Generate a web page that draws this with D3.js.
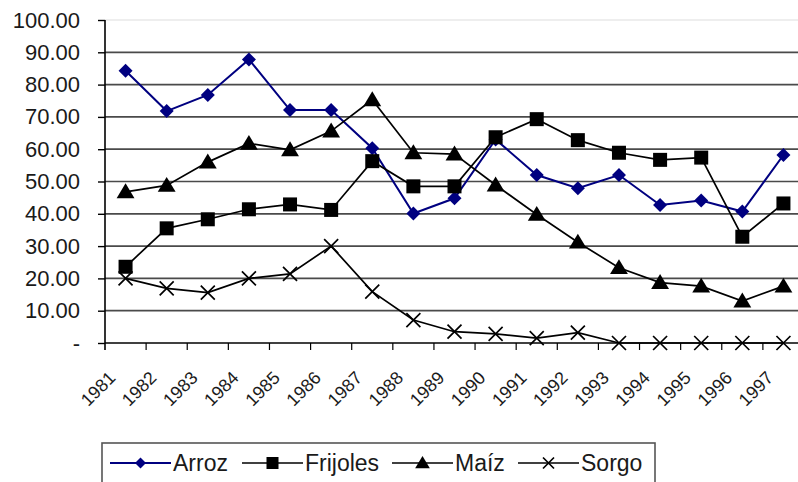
<!DOCTYPE html>
<html>
<head>
<meta charset="utf-8">
<script src="https://cdn.jsdelivr.net/npm/d3@7"></script>
<style>
  body { margin: 0; background: #fff; }
  svg { display: block; font-family: "Liberation Sans", Arial, sans-serif; }
</style>
</head>
<body>
<svg width="798" height="482"></svg>
<script>
// data
let years = ['1981', '1982', '1983', '1984', '1985', '1986', '1987', '1988', '1989',
    '1990', '1991', '1992', '1993', '1994', '1995', '1996', '1997'];
let arroz = [84.3, 71.8, 76.8, 87.8, 72.1, 72.1, 60.3, 40.1, 44.8, 63.0, 52.0, 47.9, 52.0, 42.7, 44.1, 40.7, 58.2];
let frijoles = [23.6, 35.5, 38.3, 41.4, 42.9, 41.2, 56.3, 48.5, 48.5, 63.7, 69.3, 62.8, 58.9, 56.7, 57.4, 32.9, 43.2];
let maiz = [46.8, 48.8, 56.0, 61.8, 59.8, 65.6, 75.3, 58.9, 58.5, 48.9, 39.8, 31.2, 23.3, 18.7, 17.6, 13.0, 17.6];
let sorgo = [20.0, 16.9, 15.6, 20.0, 21.4, 30.0, 15.9, 7.1, 3.5, 2.8, 1.5, 3.2, 0, 0, 0, 0, 0];
let seriesNames = ['Arroz', 'Frijoles', 'Maíz', 'Sorgo'];
let yTicks = [0, 10, 20, 30, 40, 50, 60, 70, 80, 90, 100];

let svg = d3.select('svg');
let series = [
    {name: seriesNames[0], values: arroz, color: '#000080', marker: 'diamond'},
    {name: seriesNames[1], values: frijoles, color: '#000', marker: 'square'},
    {name: seriesNames[2], values: maiz, color: '#000', marker: 'triangle'},
    {name: seriesNames[3], values: sorgo, color: '#000', marker: 'cross'}
];

let plotLeft = 105, plotRight = 804, plotTop = 20, plotBottom = 343;

let x = d3.scaleBand().domain(years).range([plotLeft, plotRight]).padding(0);
let y = d3.scaleLinear().domain([0, 100]).range([plotBottom, plotTop]);
let cx = d => x(d) + x.bandwidth() / 2;

// gridlines
svg.append('g').selectAll('line').data(yTicks.filter(d => d > 0))
    .enter().append('line')
    .attr('x1', plotLeft).attr('x2', plotRight)
    .attr('y1', d => y(d)).attr('y2', d => y(d))
    .attr('stroke', d => d === 100 ? '#ddd' : '#4a4a4a')
    .attr('stroke-width', d => d === 100 ? 1 : 1.7);

// y axis
let yAxis = svg.append('g')
    .attr('transform', `translate(${plotLeft},0)`)
    .call(d3.axisLeft(y).tickValues(yTicks)
        .tickFormat(d => d === 0 ? '-' : d.toFixed(2))
        .tickSize(7).tickPadding(18));
yAxis.select('.domain').attr('stroke', '#000').attr('stroke-width', 1.6).attr('d', `M0,${plotTop}V${plotBottom + 7}`);
yAxis.selectAll('.tick line').attr('stroke', '#000').attr('stroke-width', 1.4);
yAxis.selectAll('.tick text').attr('font-size', 22).attr('fill', '#1a1a1a')
    .attr('font-family', '"Liberation Sans", Arial, sans-serif');

// x axis
let xAxis = svg.append('g')
    .attr('transform', `translate(0,${plotBottom})`)
    .call(d3.axisBottom(x).tickSize(0));
xAxis.select('.domain').attr('stroke', '#000').attr('stroke-width', 1.6).attr('d', `M${plotLeft},0H${plotRight}`);
xAxis.selectAll('.tick text')
    .attr('font-size', 18).attr('fill', '#1a1a1a')
    .attr('font-family', '"Liberation Sans", Arial, sans-serif')
    .attr('text-anchor', 'end')
    .attr('x', 0).attr('y', 0).attr('dy', 0)
    .attr('transform', 'translate(-9,36) rotate(-45)');
xAxis.selectAll('.boundary').data(years.slice(1))
    .enter().append('line')
    .attr('class', 'boundary')
    .attr('x1', d => x(d)).attr('x2', d => x(d))
    .attr('y1', 0).attr('y2', 7)
    .attr('stroke', '#000').attr('stroke-width', 1.2);

// markers
let drawMarker = (sel, type, s, color) => {
    if (type === 'diamond') {
        sel.append('path').attr('d', `M0,${-s}L${s},0L0,${s}L${-s},0Z`).attr('fill', color);
    } else if (type === 'square') {
        sel.append('rect').attr('x', -s).attr('y', -s).attr('width', 2 * s).attr('height', 2 * s).attr('fill', color);
    } else if (type === 'triangle') {
        sel.append('path').attr('d', `M0,${-s}L${s * 1.05},${s * 0.75}L${-s * 1.05},${s * 0.75}Z`).attr('fill', color);
    } else {
        sel.append('path').attr('d', `M${-s},${-s}L${s},${s}M${-s},${s}L${s},${-s}`)
            .attr('stroke', color).attr('stroke-width', 1.7).attr('fill', 'none');
    }
};
let markerSize = {diamond: 7, square: 7, triangle: 8.5, cross: 7};

let line = d3.line().x((d, i) => cx(years[i])).y(d => y(d));

series.forEach(s => {
    let g = svg.append('g');
    g.append('path').datum(s.values)
        .attr('d', line)
        .attr('fill', 'none')
        .attr('stroke', s.color)
        .attr('stroke-width', s.marker === 'diamond' ? 2 : 1.7);
    g.selectAll('.m').data(s.values)
        .enter().append('g')
        .attr('class', 'm')
        .attr('transform', (d, i) => `translate(${cx(years[i])},${y(d)})`)
        .each(function() { drawMarker(d3.select(this), s.marker, markerSize[s.marker], s.color); });
});

// legend
let legend = svg.append('g');
legend.append('rect')
    .attr('x', 102).attr('y', 443).attr('width', 553).attr('height', 45)
    .attr('fill', '#fff').attr('stroke', '#555').attr('stroke-width', 1.6);
let legendX = [110, 242, 392, 518];
let legendMarker = {diamond: 5.5, square: 6, triangle: 7, cross: 5.5};
series.forEach((s, i) => {
    let g = legend.append('g').attr('transform', `translate(${legendX[i]},463)`);
    g.append('line').attr('x1', 0).attr('x2', 61).attr('y1', 0).attr('y2', 0)
        .attr('stroke', s.color).attr('stroke-width', s.marker === 'diamond' ? 2 : 1.7);
    let m = g.append('g').attr('transform', 'translate(30.5,0)');
    drawMarker(m, s.marker, legendMarker[s.marker], s.color);
    g.append('text').attr('x', 63).attr('y', 8)
        .attr('font-size', 23).attr('fill', '#1a1a1a')
        .attr('textLength', null)
        .text(s.name);
});
</script>
</body>
</html>
